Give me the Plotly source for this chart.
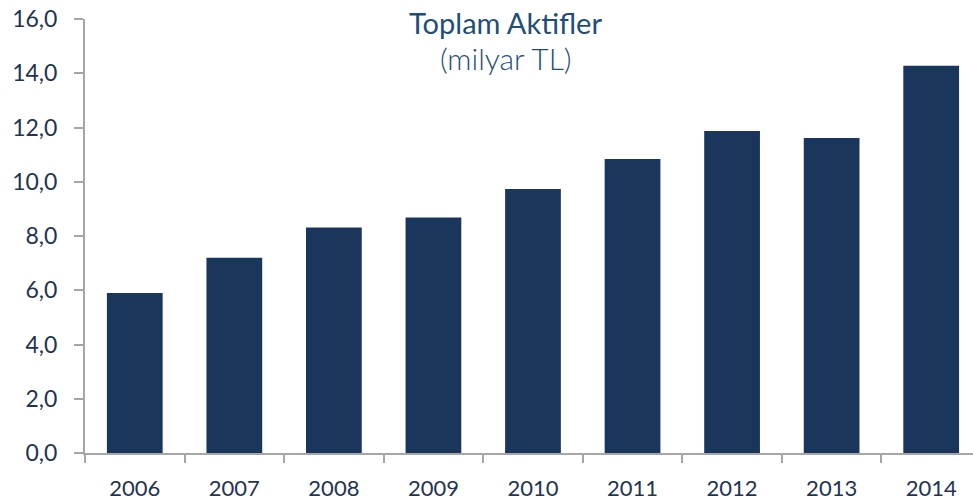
import plotly.graph_objects as go

years = ["2006", "2007", "2008", "2009", "2010", "2011", "2012", "2013", "2014"]
values = [5.90, 7.20, 8.31, 8.68, 9.73, 10.84, 11.87, 11.61, 14.28]
y_ticks = [0, 2, 4, 6, 8, 10, 12, 14, 16]

bar_color = "#1A365D"
text_color = "#1F3352"
title_color = "#1F4E79"
axis_color = "#A6A6A6"
font_family = "Lato, 'Open Sans', sans-serif"

fig = go.Figure(go.Bar(
    x=years, y=values, marker=dict(color=bar_color, line=dict(width=0)),
    width=0.56,
))

fig.update_layout(
    width=973, height=504,
    margin=dict(l=85, r=0, t=19, b=51),
    paper_bgcolor="white", plot_bgcolor="white",
    separators=",.",
    showlegend=False,
    font=dict(family=font_family, color=text_color, size=22),
    annotations=[
        dict(text="Toplam Aktifler", x=0.474, y=0.993, xref="paper", yref="paper",
             xanchor="center", yanchor="middle", showarrow=False,
             font=dict(size=29, color=title_color, family=font_family)),
        dict(text="(milyar TL)", x=0.474, y=0.911, xref="paper", yref="paper",
             xanchor="center", yanchor="middle", showarrow=False,
             font=dict(size=30, color=title_color, family=font_family, weight=300)),
    ],
)

fig.update_xaxes(
    type="category", range=[-0.5, 8.42], automargin=False,
    showline=True, linecolor=axis_color, linewidth=2,
    ticks="outside", ticklen=8, tickcolor=axis_color, tickwidth=2,
    tickson="boundaries", showgrid=False, ticklabelstandoff=15,
    ticklabeloverflow="allow",
    tickfont=dict(size=22, color=text_color),
)
fig.update_yaxes(
    range=[0, 16], tickvals=y_ticks, tickformat=".1f", automargin=False,
    showline=True, linecolor=axis_color, linewidth=2,
    ticks="outside", ticklen=9, tickcolor=axis_color, tickwidth=2,
    showgrid=False, zeroline=False, ticklabelstandoff=12,
    ticklabeloverflow="allow",
    tickfont=dict(size=23, color=text_color),
)

fig.write_html("out.html",
               config={"displayModeBar": False, "staticPlot": True},
               post_script="document.body.style.margin='0';document.body.style.overflow='hidden';")
